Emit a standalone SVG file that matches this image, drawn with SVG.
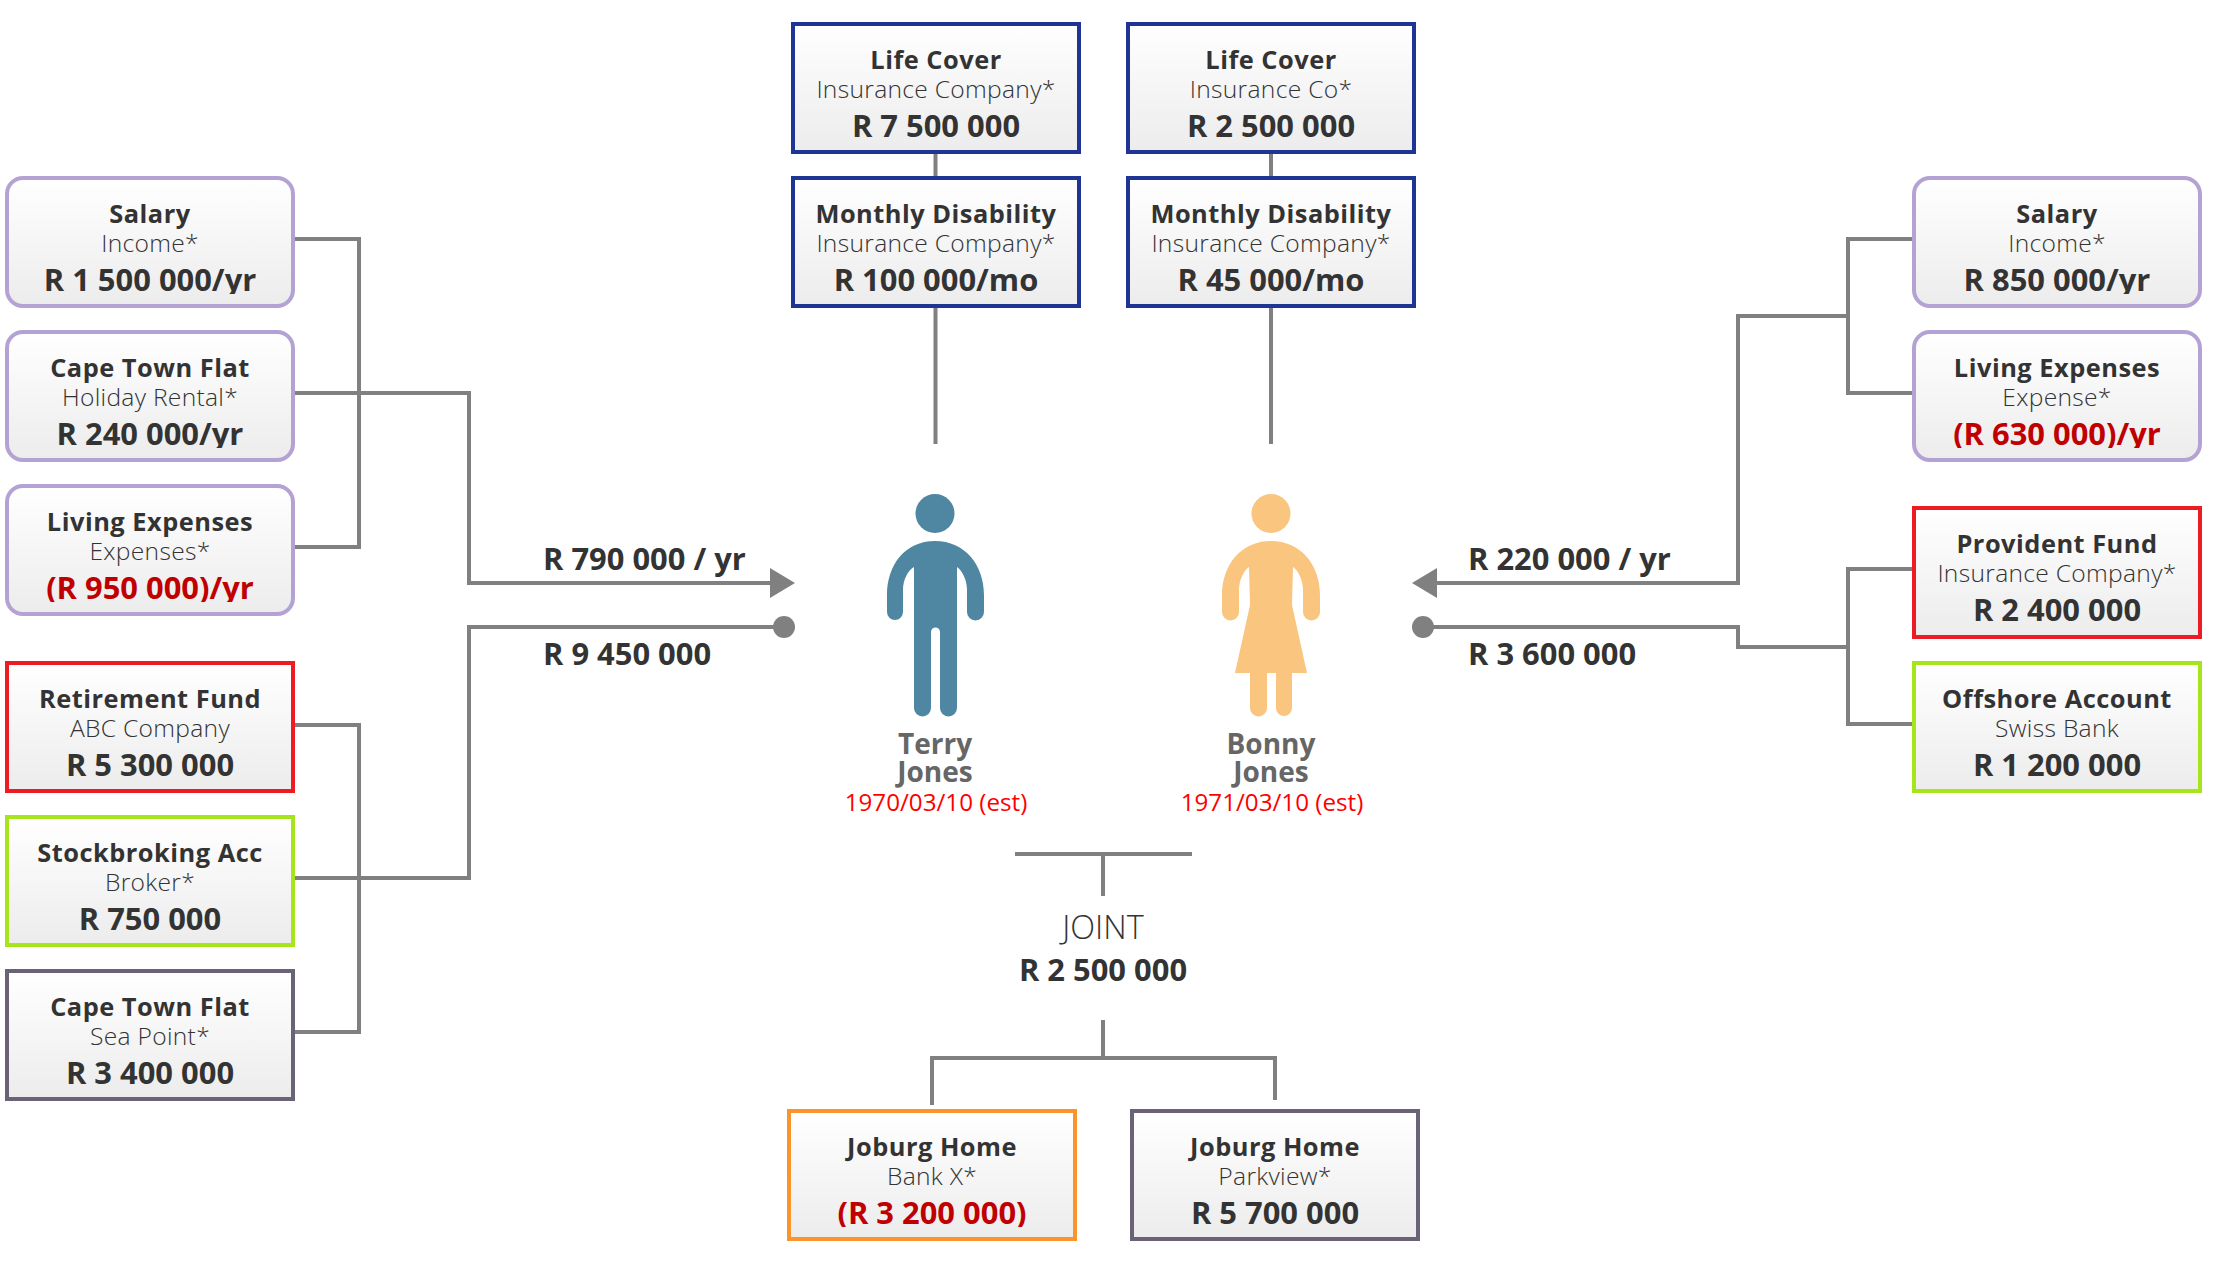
<svg xmlns="http://www.w3.org/2000/svg" width="2214" height="1262" viewBox="0 0 2214 1262">
<style>
text{font-family:"Open Sans","Noto Sans","DejaVu Sans",sans-serif;fill:#333;text-anchor:middle}
.box{fill:url(#g);stroke-width:4}
.t{font-size:25.4px;font-weight:700;letter-spacing:.5px}
.s{font-size:24.6px;font-weight:300;letter-spacing:.3px}
.v{font-size:30.9px;font-weight:700;clip-path:url(#cut)}
.neg{fill:#c00000}
.p{stroke:#b3a2d3}.n{stroke:#1f3594}.r{stroke:#ed1c24}.l{stroke:#a6e51b}.o{stroke:#fb952b}.k{stroke:#6a6377}
.c{fill:none;stroke:#808080;stroke-width:4}
.lab{font-size:30.9px;font-weight:700;text-anchor:start}
.nm{font-size:28px;font-weight:700;fill:#666}
.d{font-size:24.2px;fill:#f00}
</style>
<defs>
<linearGradient id="g" x1="0" y1="0" x2="0" y2="1"><stop offset="0" stop-color="#fff"/><stop offset="1" stop-color="#ececec"/></linearGradient>
<clipPath id="cut" clipPathUnits="objectBoundingBox"><rect x="-.1" y="0" width="1.2" height=".86"/></clipPath>
<marker id="arr" viewBox="0 0 26 30" markerWidth="26" markerHeight="30" markerUnits="userSpaceOnUse" refX="0" refY="15" orient="auto"><path d="M0 0L25 15L0 30Z" fill="#808080"/></marker>
<marker id="dot" viewBox="0 0 22 22" markerWidth="22" markerHeight="22" markerUnits="userSpaceOnUse" refX="11" refY="11"><circle cx="11" cy="11" r="11" fill="#808080"/></marker>
</defs>
<g id="connectors">
<path class="c" d="M295 239H359V547H295"/>
<path class="c" d="M295 393H469V583H770" marker-end="url(#arr)"/>
<path class="c" d="M295 725H359V1032H295"/>
<path class="c" d="M295 878H469V627H784" marker-end="url(#dot)"/>
<path class="c" d="M1912 239H1848V393H1912"/>
<path class="c" d="M1848 316H1738V583H1437" marker-end="url(#arr)"/>
<path class="c" d="M1912 569H1848V724H1912"/>
<path class="c" d="M1848 647H1738V627H1423" marker-end="url(#dot)"/>
<path class="c" d="M935.500 154V176M935.500 308V444M1271 154V176M1271 308V444"/>
<path class="c" d="M1015 854H1192M1103 854V896M1103 1020V1058M932 1105V1058H1275V1100"/>
</g>
<g id="salary-l"><rect class="box p" x="7" y="178" width="286" height="128" rx="16"/><text class="t" x="150" y="223">Salary</text><text class="s" x="150" y="252">Income*</text><text class="v" x="150" y="291">R 1 500 000/yr</text></g>
<g id="flat-l"><rect class="box p" x="7" y="332" width="286" height="128" rx="16"/><text class="t" x="150" y="377">Cape Town Flat</text><text class="s" x="150" y="406">Holiday Rental*</text><text class="v" x="150" y="445">R 240 000/yr</text></g>
<g id="living-l"><rect class="box p" x="7" y="486" width="286" height="128" rx="16"/><text class="t" x="150" y="531">Living Expenses</text><text class="s" x="150" y="560">Expenses*</text><text class="v neg" x="150" y="599">(R 950 000)/yr</text></g>
<g id="retire"><rect class="box r" x="7" y="663" width="286" height="128"/><text class="t" x="150" y="708">Retirement Fund</text><text class="s" x="150" y="737">ABC Company</text><text class="v" x="150" y="776">R 5 300 000</text></g>
<g id="stock"><rect class="box l" x="7" y="817" width="286" height="128"/><text class="t" x="150" y="862">Stockbroking Acc</text><text class="s" x="150" y="891">Broker*</text><text class="v" x="150" y="930">R 750 000</text></g>
<g id="flat-sea"><rect class="box k" x="7" y="971" width="286" height="128"/><text class="t" x="150" y="1016">Cape Town Flat</text><text class="s" x="150" y="1045">Sea Point*</text><text class="v" x="150" y="1084">R 3 400 000</text></g>
<g id="life-t"><rect class="box n" x="793" y="24" width="286" height="128"/><text class="t" x="936" y="69">Life Cover</text><text class="s" x="936" y="98">Insurance Company*</text><text class="v" x="936" y="137">R 7 500 000</text></g>
<g id="dis-t"><rect class="box n" x="793" y="178" width="286" height="128"/><text class="t" x="936" y="223">Monthly Disability</text><text class="s" x="936" y="252">Insurance Company*</text><text class="v" x="936" y="291">R 100 000/mo</text></g>
<g id="life-b"><rect class="box n" x="1128" y="24" width="286" height="128"/><text class="t" x="1271" y="69">Life Cover</text><text class="s" x="1271" y="98">Insurance Co*</text><text class="v" x="1271" y="137">R 2 500 000</text></g>
<g id="dis-b"><rect class="box n" x="1128" y="178" width="286" height="128"/><text class="t" x="1271" y="223">Monthly Disability</text><text class="s" x="1271" y="252">Insurance Company*</text><text class="v" x="1271" y="291">R 45 000/mo</text></g>
<g id="salary-r"><rect class="box p" x="1914" y="178" width="286" height="128" rx="16"/><text class="t" x="2057" y="223">Salary</text><text class="s" x="2057" y="252">Income*</text><text class="v" x="2057" y="291">R 850 000/yr</text></g>
<g id="living-r"><rect class="box p" x="1914" y="332" width="286" height="128" rx="16"/><text class="t" x="2057" y="377">Living Expenses</text><text class="s" x="2057" y="406">Expense*</text><text class="v neg" x="2057" y="445">(R 630 000)/yr</text></g>
<g id="provident"><rect class="box r" x="1914" y="508" width="286" height="129"/><text class="t" x="2057" y="553">Provident Fund</text><text class="s" x="2057" y="582">Insurance Company*</text><text class="v" x="2057" y="621">R 2 400 000</text></g>
<g id="offshore"><rect class="box l" x="1914" y="663" width="286" height="128"/><text class="t" x="2057" y="708">Offshore Account</text><text class="s" x="2057" y="737">Swiss Bank</text><text class="v" x="2057" y="776">R 1 200 000</text></g>
<g id="home-bank"><rect class="box o" x="789" y="1111" width="286" height="128"/><text class="t" x="932" y="1156">Joburg Home</text><text class="s" x="932" y="1185">Bank X*</text><text class="v neg" x="932" y="1224">(R 3 200 000)</text></g>
<g id="home-park"><rect class="box k" x="1132" y="1111" width="286" height="128"/><text class="t" x="1275" y="1156">Joburg Home</text><text class="s" x="1275" y="1185">Parkview*</text><text class="v" x="1275" y="1224">R 5 700 000</text></g>
<g id="terry"><circle cx="935" cy="513.500" r="19.500" fill="#4f87a2"/>
<path fill="#4f87a2" d="M935 541C965 541 984 565 984 595V612a8.500 8.500 0 0 1-17 0V590C967 580 962 570 957 567V708a8.500 8.500 0 0 1-17 0V632a4.500 4.500 0 0 0-9 0V708a8.500 8.500 0 0 1-17 0V567C908 570 903 580 903 590V612a8 8 0 0 1-16 0V595C887 565 905 541 935 541Z"/>
<text class="nm" x="935" y="754">Terry</text><text class="nm" x="935" y="782">Jones</text><text class="d" x="936" y="811">1970/03/10 (est)</text></g>
<g id="bonny"><circle cx="1271" cy="513.500" r="19.500" fill="#f9c57f"/>
<path fill="#f9c57f" d="M1271 541C1301 541 1320 565 1320 595V612a8.500 8.500 0 0 1-17 0V590C1303 580 1298 570 1293 567L1292 605L1307 673H1292V708a8 8 0 0 1-16 0V673H1267V708a8.500 8.500 0 0 1-17 0V673H1235L1250 605L1249 567C1244 570 1239 580 1239 590V612a8.500 8.500 0 0 1-17 0V595C1222 565 1241 541 1271 541Z"/>
<text class="nm" x="1271" y="754">Bonny</text><text class="nm" x="1271" y="782">Jones</text><text class="d" x="1272" y="811">1971/03/10 (est)</text></g>
<g id="joint"><text x="1103" y="939" font-size="32.500" font-weight="300">JOINT</text><text x="1103" y="981" font-size="30.900" font-weight="700">R 2 500 000</text></g>
<g id="labels"><text class="lab" x="543" y="570">R 790 000 / yr</text><text class="lab" x="543" y="665">R 9 450 000</text><text class="lab" x="1468" y="570">R 220 000 / yr</text><text class="lab" x="1468" y="665">R 3 600 000</text></g>
</svg>
